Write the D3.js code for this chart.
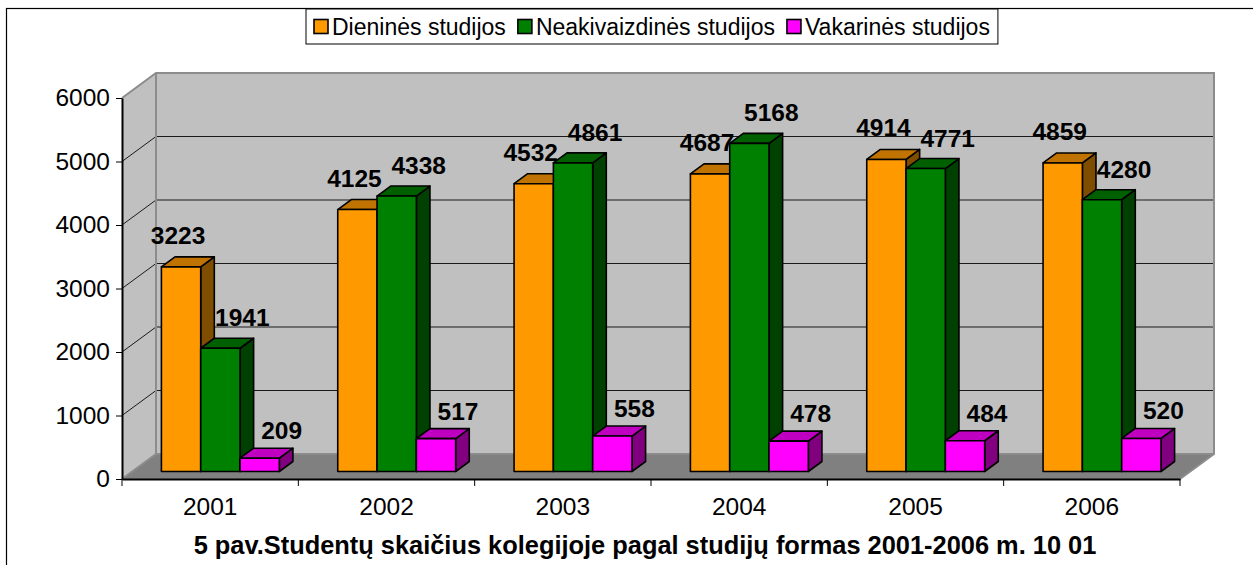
<!DOCTYPE html>
<html>
<head>
<meta charset="utf-8">
<script src="https://cdn.jsdelivr.net/npm/d3@7"></script>
<style>
  body { margin: 0; background: #fff; }
  text { font-family: "Liberation Sans", Arial, sans-serif; }
</style>
</head>
<body>
<script>
const years = ["2001", "2002", "2003", "2004", "2005", "2006"];
const seriesNames = ["Dieninės studijos", "Neakivaizdinės studijos", "Vakarinės studijos"];
const dienines = [3223, 4125, 4532, 4687, 4914, 4859];
const neakivaizdines = [1941, 4338, 4861, 5168, 4771, 4280];
const vakarines = [209, 517, 558, 478, 484, 520];
const yTicks = [0, 1000, 2000, 3000, 4000, 5000, 6000];
const title = "5 pav.Studentų skaičius kolegijoje pagal studijų formas 2001-2006 m. 10 01";

const series = [dienines, neakivaizdines, vakarines];
// front / top / side shades for each series
const faces = [
  { front: "#ff9900", top: "#c07300", side: "#7f4d00" },
  { front: "#008000", top: "#006000", side: "#004000" },
  { front: "#ff00ff", top: "#c000c0", side: "#800080" }
];
// nudges for the value labels, per series (Excel keeps them right of the bar)
const labelShift = [{ dx: -3, dy: 13 }, { dx: 22, dy: 12 }, { dx: 22, dy: 9 }];

const width = 1253;
const height = 565;
const depth = { x: 34, y: -25 }; // offset of back wall against front plane
const f0 = 0.3, f1 = 0.7;        // bars sit between these depth fractions

const x0 = d3.scaleBand(years, [122, 1180]);
const x1 = d3.scaleBand(d3.range(series.length), [0, x0.bandwidth()]).paddingOuter(0.743);
const y = d3.scaleLinear([0, 6000], [479, 98]);

const svg = d3.create("svg").attr("width", width).attr("height", height);
document.body.appendChild(svg.node());

// chart area frame
svg.append("rect")
  .attr("x", 6.5).attr("y", 8.5).attr("width", 1300).attr("height", 600)
  .attr("fill", "#fff").attr("stroke", "#000").attr("stroke-width", 1.2);

const xl = x0.range()[0], xr = x0.range()[1];
const yb = y(0), yt = y(6000);
const pts = (a) => a.map((p) => p.join(",")).join(" ");

// walls
const walls = svg.append("g");
walls.append("polygon")
  .attr("points", pts([[xl + depth.x, yt + depth.y], [xr + depth.x, yt + depth.y], [xr + depth.x, yb + depth.y], [xl + depth.x, yb + depth.y]]))
  .attr("fill", "#c0c0c0");
walls.append("polygon")
  .attr("points", pts([[xl, yt], [xl + depth.x, yt + depth.y], [xl + depth.x, yb + depth.y], [xl, yb]]))
  .attr("fill", "#c0c0c0");
walls.append("polygon")
  .attr("points", pts([[xl, yb], [xr, yb], [xr + depth.x, yb + depth.y], [xl + depth.x, yb + depth.y]]))
  .attr("fill", "#808080");

// gridlines on back and side wall
const grid = yTicks.filter((t) => t > 0 && t < 6000);
walls.selectAll("line.back").data(grid).join("line")
  .attr("x1", xl + depth.x).attr("x2", xr + depth.x)
  .attr("y1", (d) => y(d) + depth.y).attr("y2", (d) => y(d) + depth.y)
  .attr("stroke", "#1a1a1a").attr("stroke-width", 1);
walls.selectAll("line.side").data(grid).join("line")
  .attr("x1", xl).attr("x2", xl + depth.x)
  .attr("y1", (d) => y(d)).attr("y2", (d) => y(d) + depth.y)
  .attr("stroke", "#1a1a1a").attr("stroke-width", 1);

// wall edges
walls.append("path")
  .attr("d", `M${xl},${yt}L${xl + depth.x},${yt + depth.y}L${xr + depth.x},${yt + depth.y}L${xr + depth.x},${yb + depth.y}L${xr},${yb}`
    + `M${xl + depth.x},${yt + depth.y}L${xl + depth.x},${yb + depth.y}L${xr + depth.x},${yb + depth.y}M${xl},${yb}L${xl + depth.x},${yb + depth.y}`)
  .attr("fill", "none").attr("stroke", "#8c8c8c").attr("stroke-width", 2);

// axes
const yAxis = svg.append("g")
  .attr("transform", `translate(${xl},0)`)
  .call(d3.axisLeft(y).tickValues(yTicks).tickSize(6).tickSizeOuter(0).tickPadding(6).tickFormat(d3.format("d")));
yAxis.selectAll("text").attr("font-size", 24.5).attr("fill", "#000");

const xAxis = svg.append("g")
  .attr("transform", `translate(0,${yb})`)
  .call(d3.axisBottom(x0).tickSize(0).tickSizeOuter(0).tickPadding(19));
xAxis.selectAll("text").attr("font-size", 24.5).attr("fill", "#000");
xAxis.selectAll(".tick line").remove();
xAxis.selectAll("line.sep").data(years.map((d) => x0(d)).concat([xr])).join("line")
  .attr("x1", (d) => d).attr("x2", (d) => d).attr("y1", 0).attr("y2", 7)
  .attr("stroke", "#000");
svg.selectAll(".domain").attr("stroke", "#000").attr("stroke-width", 2);

// bars, left to right so front faces cover neighbours' sides
const bd = { x: depth.x * (f1 - f0), y: depth.y * (f1 - f0) };
const bars = svg.append("g").attr("stroke", "#000").attr("stroke-width", 1.6).attr("stroke-linejoin", "round");
const labels = svg.append("g");
years.forEach((yr, i) => {
  series.forEach((vals, s) => {
    const v = vals[i];
    const w = x1.bandwidth();
    const fx = x0(yr) + x1(s) + depth.x * f0;
    const by = y(0) + depth.y * f0;
    const ty = y(v) + depth.y * f0;
    const g = bars.append("g");
    g.append("polygon")
      .attr("points", pts([[fx + w, ty], [fx + w + bd.x, ty + bd.y], [fx + w + bd.x, by + bd.y], [fx + w, by]]))
      .attr("fill", faces[s].side);
    g.append("polygon")
      .attr("points", pts([[fx, ty], [fx + bd.x, ty + bd.y], [fx + w + bd.x, ty + bd.y], [fx + w, ty]]))
      .attr("fill", faces[s].top);
    g.append("rect")
      .attr("x", fx).attr("y", ty).attr("width", w).attr("height", by - ty)
      .attr("fill", faces[s].front);
    labels.append("text")
      .attr("x", fx + w / 2 + labelShift[s].dx)
      .attr("y", ty + bd.y - labelShift[s].dy)
      .attr("text-anchor", "middle")
      .attr("font-size", 24.5).attr("font-weight", "bold")
      .text(v);
  });
});

// legend
const legend = svg.append("g").attr("transform", "translate(306,9)");
const box = legend.append("rect")
  .attr("height", 35).attr("fill", "#fff").attr("stroke", "#000").attr("stroke-width", 1);
let lx = 8;
seriesNames.forEach((name, s) => {
  legend.append("rect")
    .attr("x", lx).attr("y", 10.5).attr("width", 14).attr("height", 14)
    .attr("fill", faces[s].front).attr("stroke", "#000").attr("stroke-width", 1.6);
  const t = legend.append("text")
    .attr("x", lx + 18).attr("y", 26)
    .attr("font-size", 23)
    .text(name);
  lx += 18 + t.node().getComputedTextLength() + 12;
});
box.attr("width", lx - 4);

// title below the axis
svg.append("text")
  .attr("x", 645).attr("y", 554)
  .attr("text-anchor", "middle")
  .attr("font-size", 25.4).attr("font-weight", "bold")
  .text(title);
</script>
</body>
</html>
